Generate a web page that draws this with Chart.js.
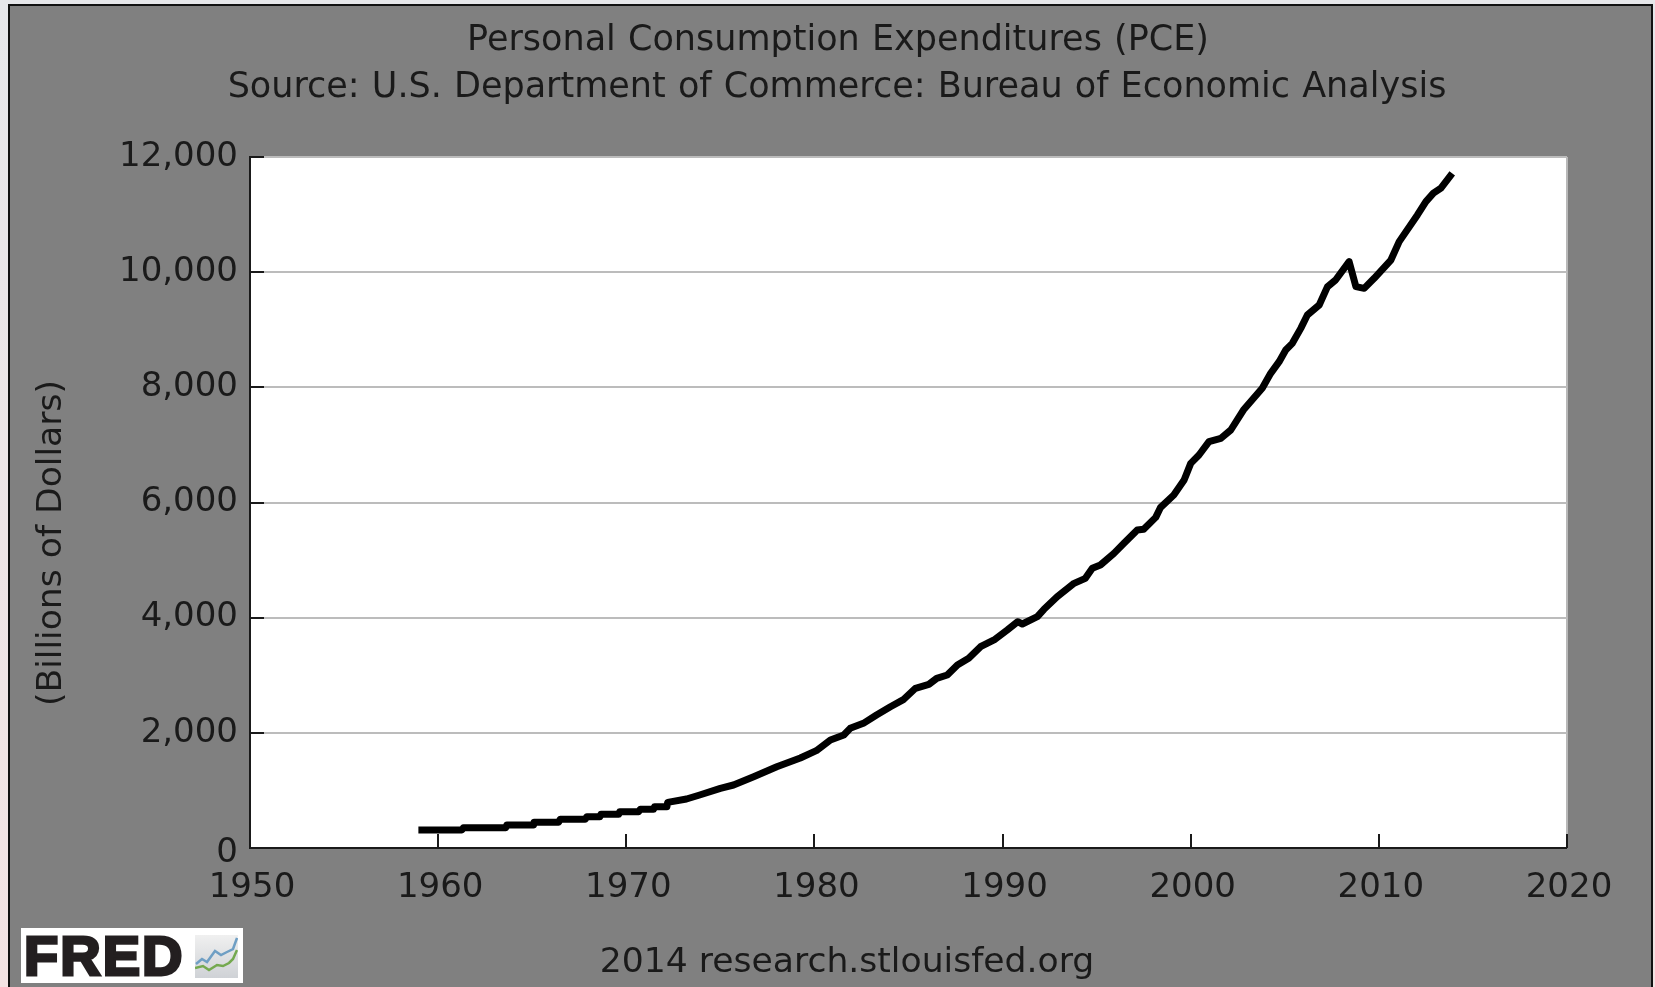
<!DOCTYPE html>
<html>
<head>
<meta charset="utf-8">
<script src="https://cdn.jsdelivr.net/npm/chart.js@4"></script>
<style>
html, body { margin: 0; padding: 0; background: linear-gradient(#e6e7ea, #f3e3e3); height: 987px; overflow: hidden; }
#frame { position: absolute; left: 8px; top: 4px; width: 1641px; height: 983px; background: #808080; border: 2px solid #111; border-bottom: none; }
#wrap { position: absolute; left: 0; top: 0; width: 1655px; height: 987px; }
#logo { position: absolute; left: 21px; top: 928px; width: 222px; height: 55px; background: #fff; filter: blur(0.6px); }
#logo span { position: absolute; left: 3px; top: 0; font: 700 56px/56px "Liberation Sans", sans-serif; letter-spacing: 2px; color: #231f20; -webkit-text-stroke: 3px #231f20; }
#logo svg { position: absolute; left: 174px; top: 7px; }
</style>
</head>
<body>
<div id="frame"></div>
<div id="wrap"><canvas id="pce" width="1655" height="987"></canvas></div>
<div id="logo"><span>FRED</span>
<svg width="43" height="43" viewBox="0 0 43 43">
<defs><linearGradient id="g" x1="0" y1="0" x2="0" y2="1"><stop offset="0" stop-color="#f0f0f0"/><stop offset="1" stop-color="#cfd2d6"/></linearGradient></defs>
<rect width="43" height="43" fill="url(#g)"/>
<polyline points="1,29 7,24 12,27 20,16 26,20 32,17 38,14 42,3" fill="none" stroke="#6f9fc4" stroke-width="2.5"/>
<polyline points="0,33 8,31 14,35 22,30 28,31 34,28 38,24 42,15" fill="none" stroke="#74a94f" stroke-width="2.5"/>
</svg></div>
<script>
// (the early part really is drawn in small steps)
const years = [1958.95, 1961.26, 1961.35, 1963.6, 1963.65, 1965.07, 1965.1, 1966.4, 1966.49, 1967.82, 1967.9, 1968.6, 1968.65, 1969.6, 1969.65, 1970.66, 1970.74, 1971.45, 1971.5, 1972.16, 1972.2, 1973.2, 1973.9, 1975, 1975.7, 1976.77, 1978, 1979.25, 1980.1, 1980.85, 1981.56,
    1981.9, 1982.6, 1983.3, 1984.04, 1984.75, 1985.37, 1986.08, 1986.5, 1987.06, 1987.6, 1988.2, 1988.83, 1989.6, 1990.25, 1990.8, 1991.05, 1991.85, 1992.2, 1992.9, 1993.8, 1994.4, 1994.77, 1995.2, 1995.92, 1996.45, 1997.16, 1997.5, 1998.14, 1998.4, 1999.1, 1999.65, 2000, 2000.44, 2000.97, 2001.6, 2002.13, 2002.8,
    2003.8, 2004.25, 2004.7, 2005.05, 2005.4, 2005.85, 2006.2, 2006.83, 2007.27, 2007.7, 2008.42, 2008.78, 2009.22, 2009.75, 2010.64, 2011.08, 2012.05, 2012.5, 2012.9, 2013.3, 2013.9];
const pce = [313, 313, 353, 353, 399, 399, 446, 446, 498, 498, 544, 544, 585, 585, 631, 631, 672, 672, 718, 718, 793, 851, 920, 1036, 1094, 1239, 1412, 1563, 1690, 1875, 1962,
    2078, 2165, 2310, 2454, 2582, 2773, 2842, 2946, 3004, 3178, 3294, 3496, 3624, 3786, 3930, 3890, 4017, 4145, 4365, 4596, 4683, 4857, 4915, 5117, 5291, 5522, 5534, 5742, 5916, 6130, 6391, 6680, 6825, 7056, 7114, 7259, 7606,
    7983, 8243, 8446, 8648, 8764, 9024, 9256, 9430, 9748, 9864, 10182, 9748, 9719, 9893, 10211, 10530, 10993, 11224, 11372, 11461, 11716];
const yearTicks = [1950, 1960, 1970, 1980, 1990, 2000, 2010, 2020];
const valueTicks = [0, 2000, 4000, 6000, 8000, 10000, 12000];
const titleLines = ['Personal Consumption Expenditures (PCE)', 'Source: U.S. Department of Commerce: Bureau of Economic Analysis'];
const yLabel = '(Billions of Dollars)';
const footer = '2014 research.stlouisfed.org';

const font = 'DejaVu Sans';
const ink = '#1a1a1a';

// white plot area, axis lines, inside ticks and the extra texts
const plotBits = {
    id: 'plotBits',
    beforeDraw(chart) {
        const { ctx, chartArea: a } = chart;
        ctx.save();
        ctx.fillStyle = '#fff';
        ctx.fillRect(a.left, a.top, a.width, a.height);
        ctx.strokeStyle = '#b8b8b8';
        ctx.lineWidth = 2;
        ctx.beginPath();
        ctx.moveTo(a.right, a.top);
        ctx.lineTo(a.right, a.bottom);
        ctx.stroke();
        ctx.restore();
    },
    afterDraw(chart) {
        const { ctx, chartArea: a, scales } = chart;
        ctx.save();
        ctx.strokeStyle = ink;
        ctx.lineWidth = 2;
        ctx.beginPath();
        ctx.moveTo(a.left, a.top - 1);
        ctx.lineTo(a.left, a.bottom);
        ctx.lineTo(a.right, a.bottom);
        yearTicks.forEach(y => {
            const x = Math.round(scales.x.getPixelForValue(y));
            ctx.moveTo(x, a.bottom);
            ctx.lineTo(x, a.bottom - 14);
        });
        valueTicks.forEach(v => {
            const y = Math.round(scales.y.getPixelForValue(v));
            ctx.moveTo(a.left, y);
            ctx.lineTo(a.left + 14, y);
        });
        ctx.stroke();

        ctx.fillStyle = ink;
        ctx.textAlign = 'center';
        ctx.textBaseline = 'middle';
        ctx.font = `35px "${font}"`;
        ctx.wordSpacing = '1px';
        ctx.fillText(titleLines[0], 838, 41);
        ctx.fillText(titleLines[1], 837, 88);
        ctx.wordSpacing = '0px';
        ctx.font = `34.6px "${font}"`;
        ctx.fillText(footer, 847, 963);
        // the 0 label sits lower than the others in the original
        ctx.font = `34px "${font}"`;
        ctx.textAlign = 'right';
        ctx.fillText(valueTicks[0].toString(), a.left - 12, scales.y.getPixelForValue(0) + 5);
        ctx.textAlign = 'center';
        ctx.font = `34.6px "${font}"`;
        ctx.translate(52, 543);
        ctx.rotate(-Math.PI / 2);
        ctx.fillText(yLabel, 0, 0);
        ctx.restore();
    }
};

new Chart(document.getElementById('pce').getContext('2d'), {
    type: 'line',
    data: {
        datasets: [{
            data: years.map((y, i) => ({ x: y, y: pce[i] })),
            borderColor: '#000',
            borderWidth: 7,
            borderJoinStyle: 'round',
            pointRadius: 0,
            tension: 0,
            fill: false
        }]
    },
    plugins: [plotBits],
    options: {
        responsive: false,
        animation: false,
        layout: { padding: { top: 157, right: 88 } },
        plugins: {
            legend: { display: false },
            tooltip: { enabled: false }
        },
        scales: {
            x: {
                type: 'linear',
                min: 1950,
                max: 2020,
                afterBuildTicks: s => { s.ticks = yearTicks.map(v => ({ value: v })); },
                afterFit: s => { s.height = 139; },
                grid: { display: false, drawTicks: false },
                border: { display: false },
                ticks: {
                    color: ink,
                    font: { family: font, size: 34 },
                    padding: 20,
                    labelOffset: 2,
                    maxRotation: 0,
                    autoSkip: false,
                    callback: v => String(v)
                }
            },
            y: {
                min: 0,
                max: 12000,
                afterBuildTicks: s => { s.ticks = valueTicks.map(v => ({ value: v })); },
                afterFit: s => { s.width = 250; },
                grid: { color: '#bcbcbc', lineWidth: 2, drawTicks: false },
                border: { display: false },
                ticks: {
                    color: ink,
                    font: { family: font, size: 34 },
                    padding: 12,
                    autoSkip: false,
                    callback: v => v === 0 ? '' : v.toLocaleString('en-US')
                }
            }
        }
    }
});
</script>
</body>
</html>
